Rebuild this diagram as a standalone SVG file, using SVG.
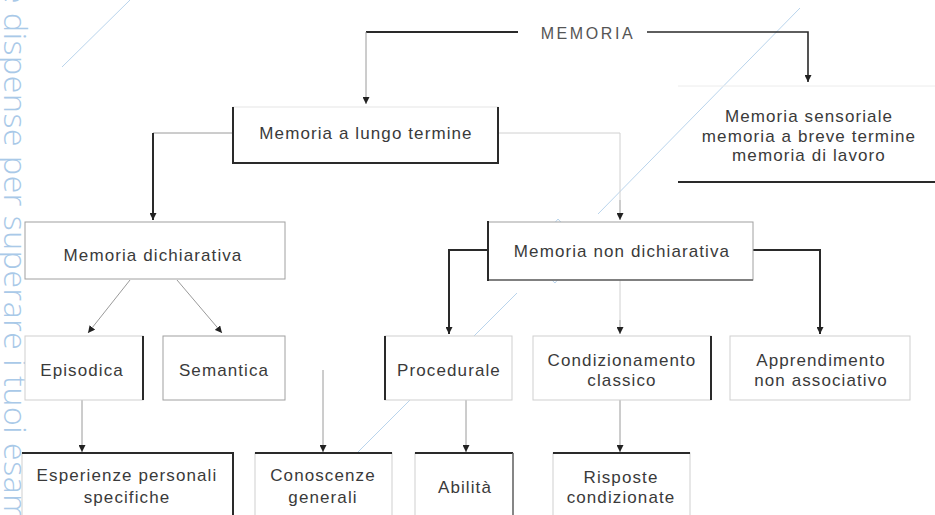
<svg xmlns="http://www.w3.org/2000/svg" width="935" height="515" viewBox="0 0 935 515">
<style>
.t{font-family:"Liberation Sans",Arial,sans-serif;font-size:17px;letter-spacing:1.1px;fill:#3a3a3a;text-anchor:middle}
.title{font-size:16px;letter-spacing:2.6px;fill:#555}
.box{fill:#fff;stroke:#cfcfcf;stroke-width:1}
.mid{fill:#fff;stroke:#a0a0a0;stroke-width:1}
.dk{stroke:#2a2a2a;stroke-width:2;fill:none}
.c-dk{stroke:#2a2a2a;stroke-width:2;fill:none}
.c-lt{stroke:#9a9a9a;stroke-width:1;fill:none}
.c-vlt{stroke:#d0d0d0;stroke-width:1;fill:none}
.wm{stroke:#b9d4ec;stroke-width:1;fill:none}
.wmt{font-family:"Open Sans","Liberation Sans",sans-serif;font-weight:300;font-size:32px;letter-spacing:0.6px;fill:#a9c9e8}
</style>
<defs>
<marker id="ah" viewBox="0 0 10 10" refX="10" refY="5" markerWidth="7" markerHeight="7" orient="auto" markerUnits="userSpaceOnUse">
<path d="M0,0 L10,5 L0,10 z" fill="#222"/>
</marker>
</defs>
<rect width="935" height="515" fill="#fff"/>

<g id="watermark">
<text class="wmt" transform="translate(4,-14) rotate(90)">e dispense per superare i tuoi esam</text>
<line class="wm" x1="62" y1="67" x2="130" y2="0"/>
<line class="wm" x1="800" y1="8" x2="598" y2="214"/>
<line class="wm" x1="517" y1="293" x2="295" y2="515"/>
<path class="wm" d="M558,219 L584,248 L555,283 L527,256 Z"/>
<path d="M545,240 L560,270 M556,236 L572,262" stroke="#b9d4ec" stroke-width="7" stroke-linecap="round" fill="none" opacity="0.8"/>
</g>

<g id="connectors">
<path class="c-dk" d="M518,32 H366"/>
<path class="c-lt" d="M366,32 V104" marker-end="url(#ah)"/>
<path class="c-dk" d="M647,32 H808 V82" style="stroke-width:1.6" marker-end="url(#ah)"/>
<path class="c-lt" d="M233,133 H153"/>
<path class="c-dk" d="M153,133 V220" marker-end="url(#ah)"/>
<path class="c-vlt" d="M498,133 H620 V200"/>
<path class="c-lt" d="M620,200 V220" marker-end="url(#ah)"/>
<path class="c-lt" d="M130,280 L88,333" marker-end="url(#ah)"/>
<path class="c-lt" d="M177,280 L222,333" marker-end="url(#ah)"/>
<path class="c-lt" d="M82,400 V452" marker-end="url(#ah)"/>
<path class="c-lt" d="M323,370 V452" marker-end="url(#ah)"/>
<path class="c-dk" d="M488,250 H449 V334" marker-end="url(#ah)"/>
<path class="c-vlt" d="M620,280 V320"/>
<path class="c-lt" d="M620,320 V334" marker-end="url(#ah)"/>
<path class="c-dk" d="M753,250 H820 V334" marker-end="url(#ah)"/>
<path class="c-lt" d="M466,400 V452" marker-end="url(#ah)"/>
<path class="c-lt" d="M620,400 V452" marker-end="url(#ah)"/>
</g>

<g id="memoria">
<text class="t title" x="588" y="39">MEMORIA</text>
</g>

<g id="lungo-termine">
<rect class="box" x="233" y="107" width="265" height="56" style="stroke:#e6e6e6"/>
<path class="dk" d="M233,107 V163 H498 V107"/>
<text class="t" x="366" y="139">Memoria a lungo termine</text>
</g>

<g id="sensoriale">
<line x1="678" y1="86" x2="935" y2="86" stroke="#ececec"/>
<line class="dk" x1="678" y1="182" x2="935" y2="182"/>
<text class="t" x="809" y="122">Memoria sensoriale</text>
<text class="t" x="809" y="142">memoria a breve termine</text>
<text class="t" x="809" y="161">memoria di lavoro</text>
</g>

<g id="dichiarativa">
<rect class="mid" x="25" y="222" width="260" height="57"/>
<text class="t" x="153" y="261">Memoria dichiarativa</text>
</g>

<g id="non-dichiarativa">
<rect class="mid" x="488" y="222" width="265" height="58"/>
<line x1="488" y1="280" x2="753" y2="280" stroke="#666" stroke-width="1.5"/>
<line class="dk" x1="488" y1="221" x2="488" y2="281"/>
<text class="t" x="622" y="257">Memoria non dichiarativa</text>
</g>

<g id="episodica">
<rect class="box" x="25" y="336" width="118" height="64"/>
<line class="dk" x1="143" y1="336" x2="143" y2="400"/>
<text class="t" x="82" y="376">Episodica</text>
</g>

<g id="semantica">
<rect class="mid" x="163" y="336" width="122" height="64"/>
<text class="t" x="224" y="376">Semantica</text>
</g>

<g id="procedurale">
<rect class="box" x="385" y="336" width="127" height="64"/>
<line class="dk" x1="385" y1="336" x2="385" y2="400"/>
<text class="t" x="449" y="376">Procedurale</text>
</g>

<g id="condizionamento">
<rect class="box" x="533" y="336" width="178" height="64"/>
<line class="dk" x1="711" y1="336" x2="711" y2="400"/>
<text class="t" x="622" y="366">Condizionamento</text>
<text class="t" x="622" y="386">classico</text>
</g>

<g id="apprendimento">
<rect class="box" x="730" y="336" width="180" height="64"/>
<text class="t" x="821" y="366">Apprendimento</text>
<text class="t" x="821" y="386">non associativo</text>
</g>

<g id="esperienze">
<rect class="box" x="22" y="453" width="211" height="72"/>
<path class="dk" d="M22,453 H233 V515"/>
<text class="t" x="127" y="481">Esperienze personali</text>
<text class="t" x="127" y="503">specifiche</text>
</g>

<g id="conoscenze">
<rect class="box" x="255" y="453" width="137" height="72"/>
<line class="dk" x1="255" y1="453" x2="392" y2="453"/>
<text class="t" x="323" y="481">Conoscenze</text>
<text class="t" x="323" y="503">generali</text>
</g>

<g id="abilita">
<rect class="box" x="415" y="453" width="98" height="72"/>
<line class="dk" x1="415" y1="453" x2="513" y2="453"/>
<line x1="513" y1="453" x2="513" y2="515" stroke="#666" stroke-width="1.5"/>
<text class="t" x="465" y="493">Abilità</text>
</g>

<g id="risposte">
<rect class="box" x="553" y="453" width="137" height="72"/>
<line class="dk" x1="553" y1="453" x2="690" y2="453"/>
<text class="t" x="621" y="483">Risposte</text>
<text class="t" x="621" y="503">condizionate</text>
</g>
</svg>
